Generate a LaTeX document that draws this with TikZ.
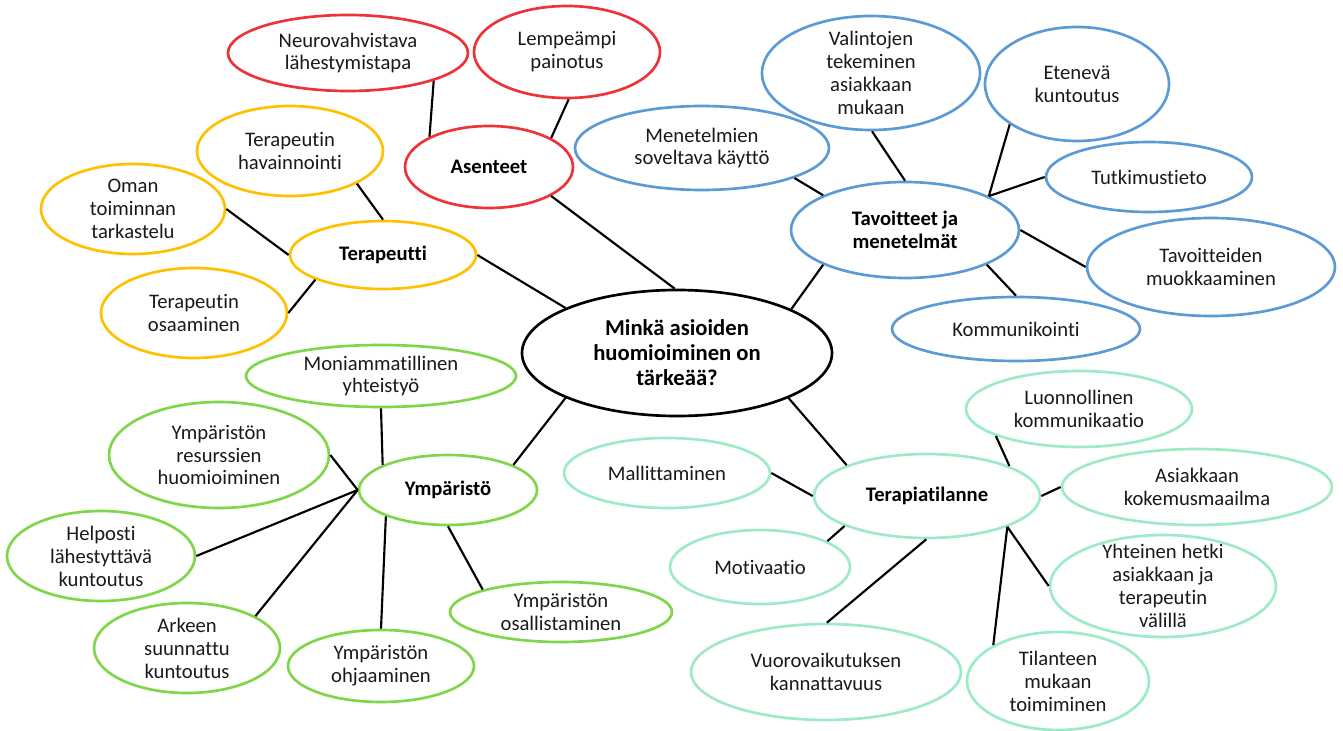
\documentclass[tikz,border=0pt]{standalone}
\usepackage{fontspec}
\setmainfont{Carlito}[Ligatures={NoCommon}]
\usetikzlibrary{shapes.geometric}
\definecolor{cred}{HTML}{EE3338}
\definecolor{corange}{HTML}{FFC000}
\definecolor{cblue}{HTML}{5B9BD5}
\definecolor{cgreen}{HTML}{7FD64A}
\definecolor{cmint}{HTML}{9DEBC4}
\definecolor{ctext}{HTML}{1A1A1A}
\tikzset{
  bub/.style={ellipse, draw, line width=2pt, inner sep=0pt, fill=white},
  tn/.style={align=center, inner sep=0pt, text=ctext, font=\fontsize{15.5}{17.2}\selectfont},
  tb/.style={tn, font=\fontsize{15.5}{17.2}\selectfont\bfseries, text=black},
  tc/.style={tn, font=\fontsize{17}{18.8}\selectfont\bfseries, text=black},
  conn/.style={line width=1.6pt, black},
}
\newcommand{\bubble}[8]{%
  \node[bub, draw=#1, minimum width={#6*1.5pt}, minimum height={#7*1.5pt}] (#3) at (#4,#5) {};
  \node[#2] (#3-t) at (#3.center) {#8};}
\begin{document}
\begin{tikzpicture}[x=0.75pt, y=-0.75pt]
\useasboundingbox (0,0) rectangle (1343,731);
% central
\bubble{black}{tc}{center}{677}{353}{155}{63}{Minkä asioiden\\huomioiminen on\\tärkeää?}
% red
\bubble{cred}{tn}{neuro}{348}{53}{120}{38}{Neurovahvistava\\lähestymistapa}
\bubble{cred}{tn}{lemp}{567}{52}{93}{46}{Lempeämpi\\painotus}
\bubble{cred}{tb}{asen}{489}{167}{84}{41}{Asenteet}
% orange
\bubble{corange}{tn}{havain}{290}{151}{93}{45}{Terapeutin\\havainnointi}
\bubble{corange}{tn}{oman}{133}{209}{92}{45}{Oman\\toiminnan\\tarkastelu}
\bubble{corange}{tb}{terap}{383}{255}{93}{34}{Terapeutti}
\bubble{corange}{tn}{osaam}{194}{313}{93}{45}{Terapeutin\\osaaminen}
% blue
\bubble{cblue}{tn}{valint}{871}{73}{109}{57}{Valintojen\\tekeminen\\asiakkaan\\mukaan}
\bubble{cblue}{tn}{etenev}{1077}{84}{92}{57}{Etenevä\\kuntoutus}
\bubble{cblue}{tn}{menet}{702}{148}{127}{42}{Menetelmien\\soveltava käyttö}
\bubble{cblue}{tn}{tutk}{1149}{177}{103}{35}{Tutkimustieto}
\bubble{cblue}{tb}{tavoit}{905}{230}{114}{48}{Tavoitteet ja\\menetelmät}
\bubble{cblue}{tn}{muok}{1211}{267}{124}{49}{Tavoitteiden\\muokkaaminen}
\bubble{cblue}{tn}{komm}{1016}{329}{124}{32}{Kommunikointi}
% green
\bubble{cgreen}{tn}{moni}{381}{376}{135}{31}{Moniammatillinen\\yhteistyö}
\bubble{cgreen}{tn}{resurs}{219}{455}{110}{53}{Ympäristön\\resurssien\\huomioiminen}
\bubble{cgreen}{tb}{ymp}{448}{490}{89}{35}{Ympäristö}
\bubble{cgreen}{tn}{help}{101}{556}{94}{45}{Helposti\\lähestyttävä\\kuntoutus}
\bubble{cgreen}{tn}{arkeen}{187}{648}{93}{45}{Arkeen\\suunnattu\\kuntoutus}
\bubble{cgreen}{tn}{ohjaam}{381}{666}{93}{36}{Ympäristön\\ohjaaminen}
\bubble{cgreen}{tn}{osall}{561}{612}{111}{30}{Ympäristön\\osallistaminen}
% mint
\bubble{cmint}{tn}{luonn}{1079}{409}{113}{38}{Luonnollinen\\kommunikaatio}
\bubble{cmint}{tn}{mallit}{667}{473}{103}{35}{Mallittaminen}
\bubble{cmint}{tb}{tilanne}{927}{496}{113}{42}{Terapiatilanne}
\bubble{cmint}{tn}{asiak}{1197}{487}{135}{38}{Asiakkaan\\kokemusmaailma}
\bubble{cmint}{tn}{motiv}{760}{567}{90}{37}{Motivaatio}
\bubble{cmint}{tn}{yhteinen}{1163}{586}{113}{51}{Yhteinen hetki\\asiakkaan ja\\terapeutin\\välillä}
\bubble{cmint}{tn}{vuoro}{826}{672}{135}{48}{Vuorovaikutuksen\\kannattavuus}
\bubble{cmint}{tn}{tilant}{1058}{681}{91}{49}{Tilanteen\\mukaan\\toimiminen}
% connectors
\draw[conn] (asen.-25.8) -- (center.92);
\draw[conn] (terap.0) -- (center.158.4);
\draw[conn] (tavoit.203.6) -- (center.21.8);
\draw[conn] (ymp.21.6) -- (center.202.3);
\draw[conn] (tilanne.159.4) -- (center.-22.3);
\draw[conn] (asen.153.8) -- (neuro.-18.8);
\draw[conn] (asen.25.4) -- (lemp.-88.8);
\draw[conn] (terap.90) -- (havain.-26.2);
\draw[conn] (terap.180) -- (oman.0);
\draw[conn] (terap.200.3) -- (osaam.0);
\draw[conn] (tavoit.157) -- (menet.-18);
\draw[conn] (tavoit.90) -- (valint.-89);
\draw[conn] (tavoit.22.8) -- (etenev.211.6);
\draw[conn] (tavoit.22.8) -- (tutk.180);
\draw[conn] (tavoit.0) -- (muok.180);
\draw[conn] (tavoit.-23) -- (komm.90);
\draw[conn] (ymp.159.1) -- (moni.-90);
\draw[conn] (ymp.180) -- (resurs.-0.5);
\draw[conn] (ymp.180) -- (help.0);
\draw[conn] (ymp.180) -- (arkeen.25.5);
\draw[conn] (ymp.203.2) -- (ohjaam.90);
\draw[conn] (ymp.-90) -- (osall.164);
\draw[conn] (tilanne.180) -- (mallit.0);
\draw[conn] (tilanne.200.6) -- (motiv.21.3);
\draw[conn] (tilanne.-91) -- (vuoro.89);
\draw[conn] (tilanne.20.2) -- (luonn.198.6);
\draw[conn] (tilanne.0) -- (asiak.180);
\draw[conn] (tilanne.-21.2) -- (yhteinen.180);
\draw[conn] (tilanne.-21.2) -- (tilant.151.3);
\end{tikzpicture}
\end{document}
